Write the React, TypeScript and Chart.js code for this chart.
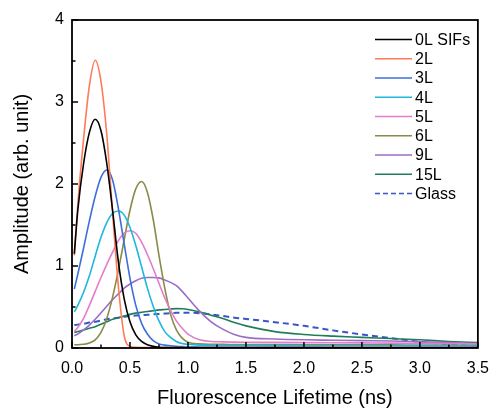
import React, { useEffect, useRef } from "react";
import { Chart, registerables } from "chart.js";

Chart.register(...registerables);

// Fluorescence lifetime (ns) sample positions
const lifetimes = [0.02, 0.05, 0.1, 0.15, 0.2, 0.25, 0.3, 0.35, 0.4, 0.45, 0.5, 0.55, 0.6, 0.65, 0.7, 0.75, 0.8, 0.85, 0.9, 0.95, 1.0, 1.1, 1.2, 1.3, 1.4, 1.5, 1.75, 2.0, 2.25, 2.5, 2.75, 3.0, 3.25, 3.5];

// Amplitude (arb. unit) per series
const amp0L = [1.15, 1.68, 2.25, 2.63, 2.79, 2.65, 2.25, 1.68, 1.05, 0.6, 0.32, 0.16, 0.08, 0.04, 0.02, 0.01, 0.006, 0.005, 0.004, 0.004, 0.003, 0.003, 0.003, 0.003, 0.003, 0.003, 0.003, 0.003, 0.003, 0.003, 0.003, 0.003, 0.003, 0.003];
const amp2L = [1.13, 1.75, 2.55, 3.2, 3.51, 3.25, 2.6, 1.65, 0.75, 0.15, 0.02, 0.008, 0.006, 0.005, 0.005, 0.005, 0.005, 0.005, 0.005, 0.005, 0.005, 0.005, 0.005, 0.005, 0.005, 0.005, 0.005, 0.005, 0.005, 0.005, 0.005, 0.005, 0.005, 0.005];
const amp3L = [0.72, 0.9, 1.22, 1.55, 1.85, 2.08, 2.17, 2.05, 1.7, 1.27, 0.85, 0.52, 0.3, 0.17, 0.09, 0.05, 0.035, 0.028, 0.022, 0.018, 0.015, 0.013, 0.012, 0.012, 0.012, 0.011, 0.011, 0.011, 0.01, 0.01, 0.01, 0.01, 0.01, 0.01];
const amp4L = [0.44, 0.52, 0.68, 0.88, 1.12, 1.35, 1.53, 1.64, 1.67, 1.62, 1.47, 1.25, 0.99, 0.73, 0.51, 0.33, 0.2, 0.13, 0.08, 0.055, 0.045, 0.035, 0.032, 0.03, 0.03, 0.03, 0.029, 0.028, 0.028, 0.027, 0.027, 0.026, 0.025, 0.025];
const amp5L = [0.2, 0.25, 0.36, 0.52, 0.69, 0.86, 1.02, 1.17, 1.31, 1.4, 1.43, 1.4, 1.29, 1.14, 0.97, 0.79, 0.61, 0.46, 0.33, 0.24, 0.17, 0.1, 0.08, 0.075, 0.072, 0.07, 0.068, 0.066, 0.064, 0.062, 0.06, 0.057, 0.054, 0.05];
const amp6L = [0.04, 0.04, 0.045, 0.06, 0.1, 0.19, 0.36, 0.62, 0.95, 1.32, 1.68, 1.94, 2.03, 1.9, 1.57, 1.13, 0.73, 0.41, 0.22, 0.12, 0.07, 0.05, 0.045, 0.044, 0.043, 0.042, 0.041, 0.04, 0.04, 0.039, 0.038, 0.037, 0.036, 0.035];
const amp9L = [0.15, 0.17, 0.22, 0.28, 0.35, 0.43, 0.51, 0.59, 0.66, 0.73, 0.78, 0.82, 0.85, 0.86, 0.86, 0.855, 0.83, 0.8, 0.76, 0.69, 0.61, 0.45, 0.32, 0.23, 0.165, 0.13, 0.11, 0.1, 0.095, 0.09, 0.085, 0.075, 0.065, 0.055];
const amp15L = [0.19, 0.2, 0.22, 0.24, 0.26, 0.29, 0.32, 0.35, 0.37, 0.39, 0.41, 0.425, 0.435, 0.445, 0.455, 0.465, 0.47, 0.475, 0.48, 0.478, 0.47, 0.44, 0.4, 0.36, 0.31, 0.27, 0.2, 0.165, 0.145, 0.13, 0.115, 0.1, 0.08, 0.065];
const ampGlass = [0.28, 0.285, 0.295, 0.31, 0.32, 0.335, 0.35, 0.36, 0.37, 0.38, 0.39, 0.395, 0.4, 0.405, 0.41, 0.415, 0.42, 0.425, 0.43, 0.43, 0.43, 0.425, 0.41, 0.39, 0.37, 0.355, 0.315, 0.27, 0.215, 0.165, 0.12, 0.075, 0.045, 0.025];

const seriesLabels = ["0L SIFs", "2L", "3L", "4L", "5L", "6L", "9L", "15L", "Glass"];
const seriesValues = [amp0L, amp2L, amp3L, amp4L, amp5L, amp6L, amp9L, amp15L, ampGlass];
const seriesColors = ["#000000", "#ff7a58", "#3d6fd8", "#1fb6e0", "#e57cc9", "#8a8a4a", "#9a6cc8", "#1f7d58", "#3a55c8"];
const seriesDashed = [false, false, false, false, false, false, false, false, true];

const xMajorTicks = [0, 0.5, 1, 1.5, 2, 2.5, 3, 3.5];
const xMinorTicks = [0.25, 0.75, 1.25, 1.75, 2.25, 2.75, 3.25];
const yMajorTicks = [0, 1, 2, 3, 4];
const yMinorTicks = [0.5, 1.5, 2.5, 3.5];

const FONT = "'Liberation Sans', Arial, Helvetica, sans-serif";

const framePlugin = {
  id: "frameTicks",
  afterDatasetsDraw(chart: any) {
    const { ctx, chartArea: a, scales } = chart;
    ctx.save();
    ctx.strokeStyle = "#000";
    ctx.lineWidth = 1.8;
    ctx.strokeRect(a.left, a.top, a.right - a.left, a.bottom - a.top);
    ctx.lineWidth = 1.5;
    ctx.beginPath();
    xMajorTicks.forEach((v) => {
      const px = scales.x.getPixelForValue(v);
      ctx.moveTo(px, a.bottom);
      ctx.lineTo(px, a.bottom - 6);
    });
    xMinorTicks.forEach((v) => {
      const px = scales.x.getPixelForValue(v);
      ctx.moveTo(px, a.bottom);
      ctx.lineTo(px, a.bottom - 3.5);
    });
    yMajorTicks.forEach((v) => {
      const py = scales.y.getPixelForValue(v);
      ctx.moveTo(a.left, py);
      ctx.lineTo(a.left + 6, py);
    });
    yMinorTicks.forEach((v) => {
      const py = scales.y.getPixelForValue(v);
      ctx.moveTo(a.left, py);
      ctx.lineTo(a.left + 3.5, py);
    });
    ctx.stroke();
    ctx.restore();
  },
};

const legendPlugin = {
  id: "insideLegend",
  afterDraw(chart: any) {
    const { ctx } = chart;
    ctx.save();
    ctx.font = `16px ${FONT}`;
    ctx.textBaseline = "middle";
    ctx.textAlign = "left";
    chart.data.datasets.forEach((ds: any, i: number) => {
      const y = 39.5 + i * 19.25;
      ctx.strokeStyle = ds.borderColor;
      ctx.lineWidth = 1.6;
      ctx.setLineDash(ds.borderDash && ds.borderDash.length ? [5, 3] : []);
      ctx.beginPath();
      ctx.moveTo(375, y);
      ctx.lineTo(412, y);
      ctx.stroke();
      ctx.setLineDash([]);
      ctx.fillStyle = "#000";
      ctx.fillText(ds.label, 415, y + 1);
    });
    ctx.restore();
  },
};

export default function App() {
  const canvasRef = useRef<HTMLCanvasElement | null>(null);

  useEffect(() => {
    if (!canvasRef.current) return;
    const datasets = seriesLabels.map((label, i) => ({
      label,
      data: lifetimes.map((x, j) => ({ x, y: seriesValues[i][j] })),
      borderColor: seriesColors[i],
      backgroundColor: seriesColors[i],
      borderWidth: seriesDashed[i] ? 2 : 1.6,
      borderDash: seriesDashed[i] ? [6, 4] : [],
      pointRadius: 0,
      fill: false,
      cubicInterpolationMode: "monotone" as const,
    }));
    const chart = new Chart(canvasRef.current, {
      type: "line",
      data: { datasets },
      options: {
        responsive: false,
        animation: false,
        layout: { padding: { top: 20, right: 16, left: 0, bottom: 0 } },
        plugins: { legend: { display: false }, tooltip: { enabled: false } },
        scales: {
          x: {
            type: "linear",
            min: 0,
            max: 3.5,
            grid: { display: false, drawTicks: false },
            border: { display: false },
            ticks: {
              stepSize: 0.5,
              color: "#000",
              padding: 11,
              font: { family: FONT, size: 16 },
              callback: (v: any) => Number(v).toFixed(1),
              maxRotation: 0,
            },
            title: {
              display: true,
              text: "Fluorescence Lifetime (ns)",
              color: "#000",
              font: { family: FONT, size: 20 },
              padding: { top: 0, bottom: 0 },
            },
            afterFit: (s: any) => {
              s.height = 62;
            },
          },
          y: {
            type: "linear",
            min: 0,
            max: 4,
            grid: { display: false, drawTicks: false },
            border: { display: false },
            ticks: {
              stepSize: 1,
              color: "#000",
              padding: 8,
              font: { family: FONT, size: 16 },
            },
            title: {
              display: true,
              text: "Amplitude (arb. unit)",
              color: "#000",
              font: { family: FONT, size: 20 },
              padding: { top: 10, bottom: 0 },
            },
            afterFit: (s: any) => {
              s.width = 72;
            },
          },
        },
      },
      plugins: [framePlugin, legendPlugin],
    });
    return () => chart.destroy();
  }, []);

  return (
    <div style={{ position: "fixed", left: 0, top: 0, width: 500, height: 410, background: "#fff" }}>
      <canvas ref={canvasRef} width={500} height={410} style={{ width: 500, height: 410, display: "block" }} />
    </div>
  );
}
